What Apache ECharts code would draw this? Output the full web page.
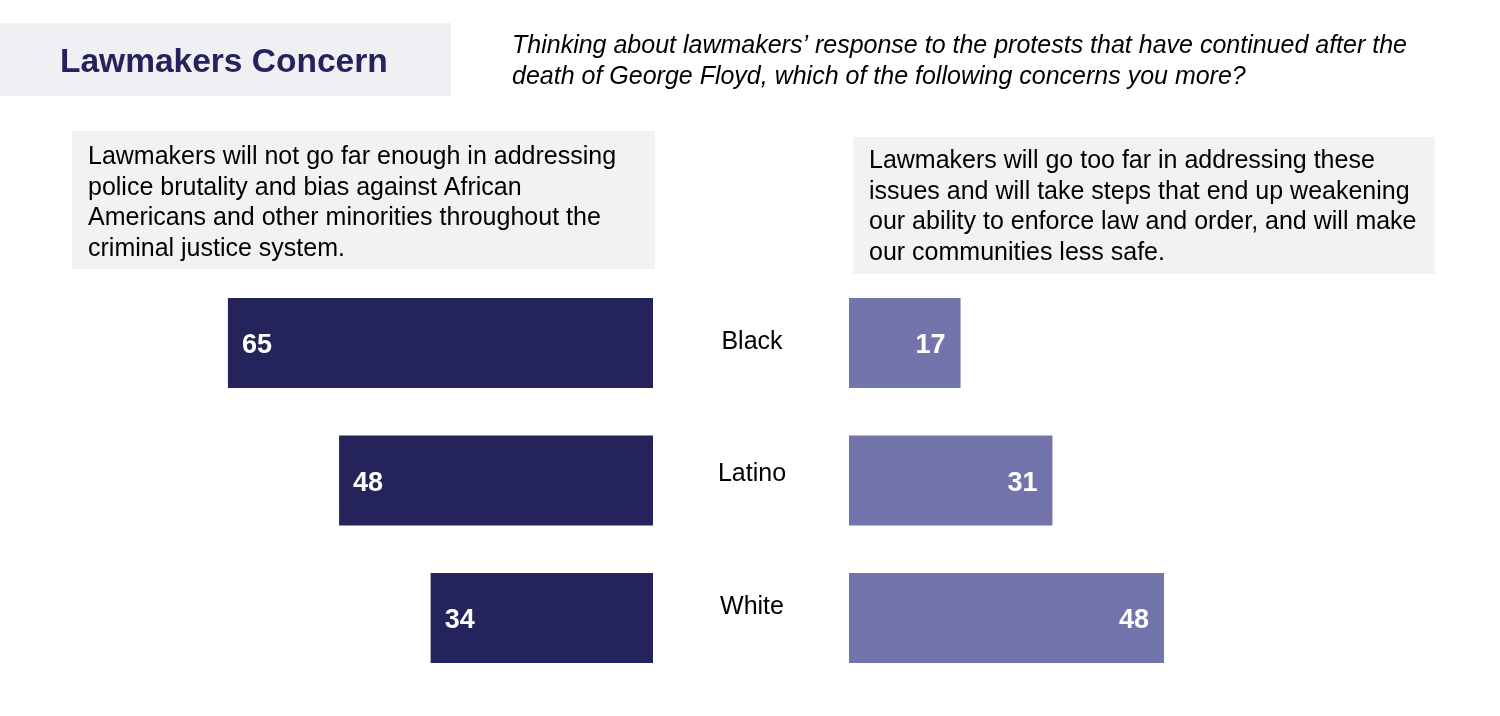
<!DOCTYPE html>
<html><head><meta charset="utf-8">
<script src="https://cdn.jsdelivr.net/npm/echarts@6/dist/echarts.min.js"></script>
<style>html,body{margin:0;padding:0;background:#fff}#c{width:1500px;height:716px}</style>
</head><body><div id="c"></div>
<script>
const categories = ['Black', 'Latino', 'White'];
const notFarEnough = [65, 48, 34];
const tooFar = [17, 31, 48];
const titleText = 'Lawmakers Concern';
const questionLines = ['Thinking about lawmakers\u2019 response to the protests that have continued after the', 'death of George Floyd, which of the following concerns you more?'];
const leftLines = ['Lawmakers will not go far enough in addressing', 'police brutality and bias against African', 'Americans and other minorities throughout the', 'criminal justice system.'];
const rightLines = ['Lawmakers will go too far in addressing these', 'issues and will take steps that end up weakening', 'our ability to enforce law and order, and will make', 'our communities less safe.'];

const FONT = '"Liberation Sans", Arial, Helvetica, sans-serif';
const chart = echarts.init(document.getElementById('c'));
const AXMAX = 80;
const WL = 523.2, WR = 525;
const gridTop = 274.25, gridH = 412.5;

chart.setOption({
  animation: false,
  textStyle: { fontFamily: FONT },
  grid: [
    { left: 653 - WL, width: WL, top: gridTop, height: gridH, containLabel: false },
    { left: 849, width: WR, top: gridTop, height: gridH, containLabel: false },
    { left: 700, width: 100, top: 275.75, height: 397.5, containLabel: false }
  ],
  xAxis: [
    { gridIndex: 0, type: 'value', min: 0, max: AXMAX, inverse: true, show: false },
    { gridIndex: 1, type: 'value', min: 0, max: AXMAX, show: false },
    { gridIndex: 2, type: 'value', min: 0, max: 1, show: false }
  ],
  yAxis: [
    { gridIndex: 0, type: 'category', data: categories, inverse: true, show: false },
    { gridIndex: 1, type: 'category', data: categories, inverse: true, show: false },
    { gridIndex: 2, type: 'category', data: categories, inverse: true, position: 'left',
      axisLine: { show: false }, axisTick: { show: false }, splitLine: { show: false },
      axisLabel: { show: true, align: 'center', margin: -52, color: '#000', fontSize: 25, fontFamily: FONT } }
  ],
  series: [
    { type: 'bar', xAxisIndex: 0, yAxisIndex: 0, data: notFarEnough, barWidth: 90,
      itemStyle: { color: '#25235b' },
      label: { show: true, position: 'insideLeft', offset: [0, 3], distance: 14, color: '#fff', fontWeight: 'bold', fontSize: 27, fontFamily: FONT } },
    { type: 'bar', xAxisIndex: 1, yAxisIndex: 1, data: tooFar, barWidth: 90,
      itemStyle: { color: '#7474ad' },
      label: { show: true, position: 'insideRight', offset: [0, 3], distance: 15, color: '#fff', fontWeight: 'bold', fontSize: 27, fontFamily: FONT } }
  ],
  graphic: [
    { type: 'rect', shape: { x: 0, y: 23, width: 451, height: 73 }, style: { fill: '#f0eff3' }, silent: true },
    { type: 'text', x: 60, y: 63, style: { text: titleText, fill: '#25235b', font: 'bold 33.5px ' + FONT, textVerticalAlign: 'middle' } },
    { type: 'text', x: 512, y: 46, style: { text: questionLines[0], fill: '#000', font: 'italic 25px ' + FONT, textVerticalAlign: 'middle' } },
    { type: 'text', x: 512, y: 77, style: { text: questionLines[1], fill: '#000', font: 'italic 25px ' + FONT, textVerticalAlign: 'middle' } },
    { type: 'rect', shape: { x: 72, y: 131, width: 583, height: 138 }, style: { fill: '#f2f2f2' }, silent: true },
    { type: 'rect', shape: { x: 853, y: 137, width: 582, height: 137 }, style: { fill: '#f2f2f2' }, silent: true },
    ...leftLines.map((t, i) => ({ type: 'text', x: 88, y: 157.5 + i * 30.4, style: { text: t, fill: '#000', font: '25px ' + FONT, textVerticalAlign: 'middle' } })),
    ...rightLines.map((t, i) => ({ type: 'text', x: 869, y: 161.5 + i * 30.4, style: { text: t, fill: '#000', font: '25px ' + FONT, textVerticalAlign: 'middle' } }))
  ]
});
</script></body></html>
